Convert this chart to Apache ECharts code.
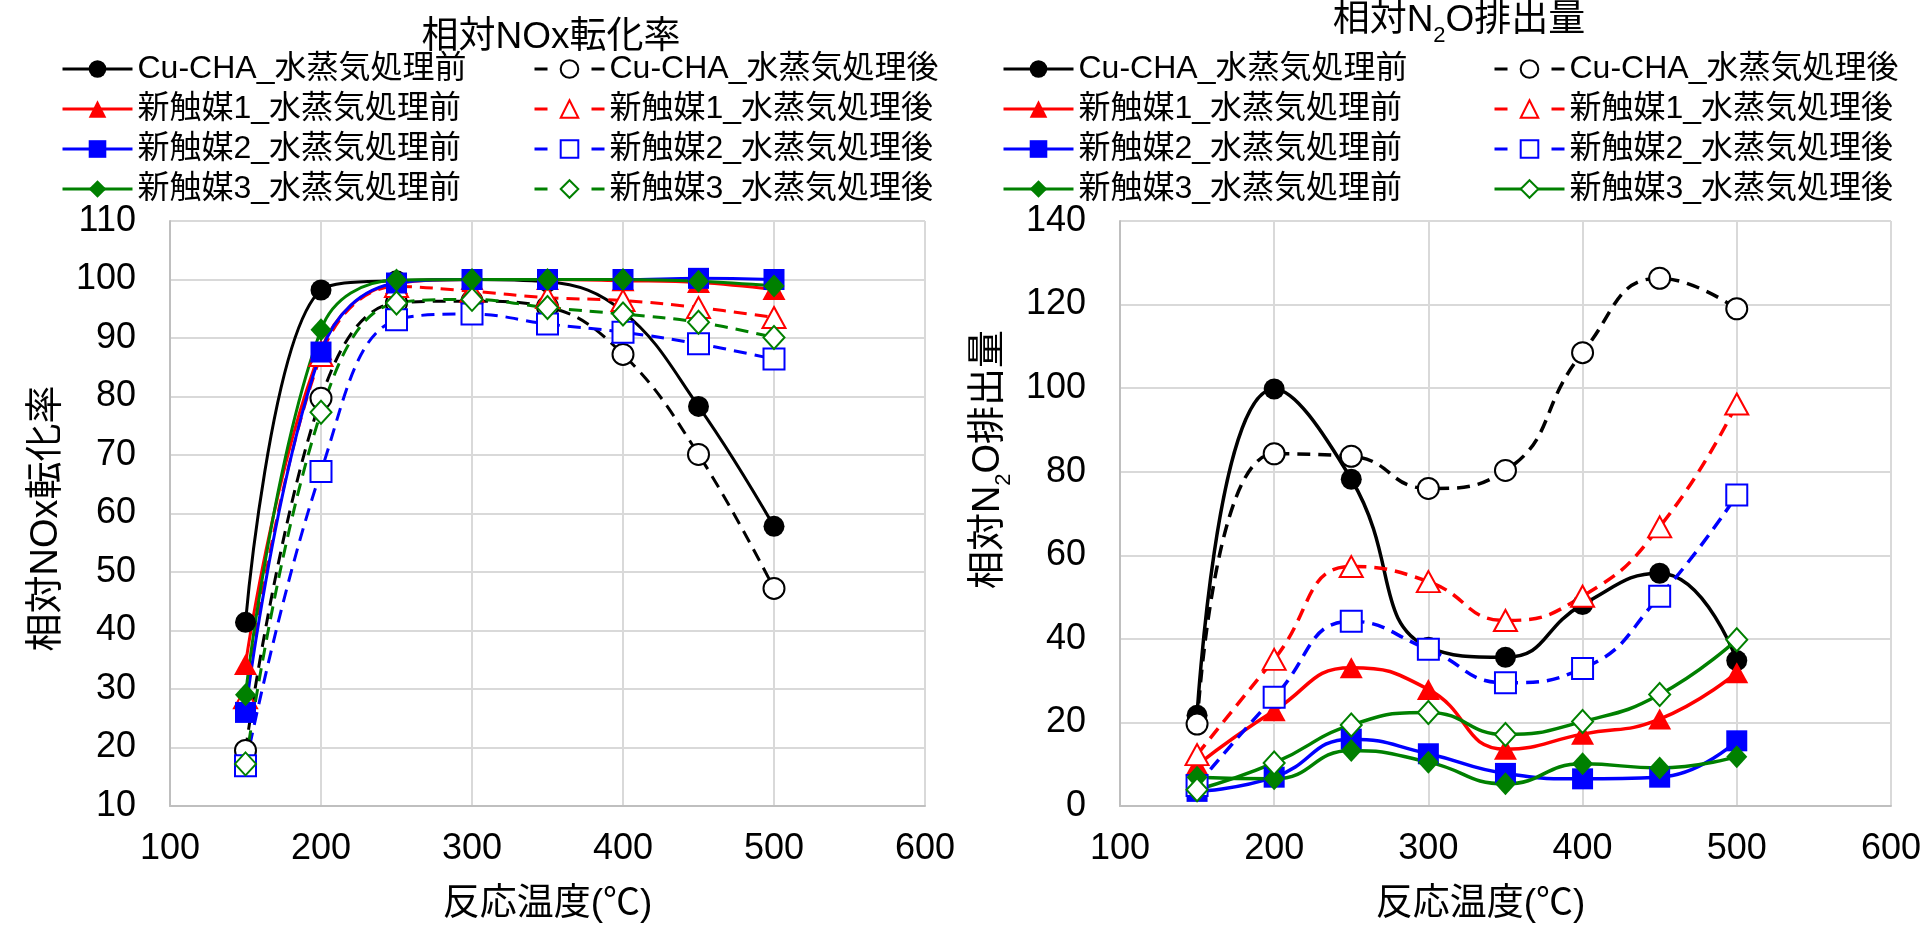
<!DOCTYPE html>
<html>
<head>
<meta charset="utf-8">
<script src="https://cdn.jsdelivr.net/npm/echarts@6/dist/echarts.min.js"></script>
<style>
  html, body { margin: 0; padding: 0; background: #ffffff; }
  #nox, #n2o { position: absolute; top: 0; width: 962px; height: 928px; }
  #nox { left: 0; }
  #n2o { left: 962px; }
</style>
</head>
<body>
<div id="nox"></div>
<div id="n2o"></div>
<script>
const FONT = '"Liberation Sans", "Noto Sans CJK JP", sans-serif';

// Reaction temperatures (°C)
const temps = [150, 200, 250, 300, 350, 400, 450, 500];

const seriesNames = [
  'Cu-CHA_水蒸気処理前', 'Cu-CHA_水蒸気処理後',
  '新触媒1_水蒸気処理前', '新触媒1_水蒸気処理後',
  '新触媒2_水蒸気処理前', '新触媒2_水蒸気処理後',
  '新触媒3_水蒸気処理前', '新触媒3_水蒸気処理後'
];

// Relative NOx conversion
const noxCuBefore  = [41.4, 98.2, 99.8, 100.0, 99.6, 94.5, 78.3, 57.8];
const noxCuAfter   = [19.5, 79.7, 96.0, 96.3, 95.3, 87.2, 70.1, 47.2];
const noxN1Before  = [34.2, 88.0, 99.3, 100.0, 100.0, 99.8, 99.5, 98.3];
const noxN1After   = [28.5, 87.0, 98.8, 98.0, 96.9, 96.4, 95.2, 93.5];
const noxN2Before  = [26.0, 87.6, 99.4, 100.0, 100.0, 100.0, 100.2, 100.0];
const noxN2After   = [16.9, 67.2, 93.1, 94.1, 92.4, 91.0, 89.0, 86.4];
const noxN3Before  = [29.0, 91.4, 99.9, 100.0, 100.0, 100.0, 99.7, 98.9];
const noxN3After   = [17.2, 77.3, 96.0, 96.6, 95.2, 94.1, 92.7, 90.1];

// Relative N2O emission
const n2oCuBefore  = [21.7, 99.8, 78.2, 38.0, 35.6, 48.2, 55.7, 34.8];
const n2oCuAfter   = [19.6, 84.3, 83.7, 76.0, 80.3, 108.5, 126.3, 119.0];
const n2oN1Before  = [9.8, 22.8, 33.1, 27.9, 13.6, 17.2, 20.8, 31.9];
const n2oN1After   = [12.3, 35.1, 57.3, 53.7, 44.4, 50.2, 66.8, 96.2];
const n2oN2Before  = [3.5, 6.9, 16.0, 12.5, 7.8, 6.5, 6.9, 15.6];
const n2oN2After   = [4.9, 26.0, 44.2, 37.5, 29.5, 32.9, 50.2, 74.4];
const n2oN3Before  = [6.9, 6.5, 13.3, 10.5, 5.3, 10.1, 9.1, 11.8];
const n2oN3After   = [3.9, 10.3, 19.4, 22.4, 17.1, 20.2, 26.7, 39.8];

const noxSets = [noxCuBefore, noxCuAfter, noxN1Before, noxN1After, noxN2Before, noxN2After, noxN3Before, noxN3After];
const n2oSets = [n2oCuBefore, n2oCuAfter, n2oN1Before, n2oN1After, n2oN2Before, n2oN2After, n2oN3Before, n2oN3After];

// Marker / colour per series
const looks = [
  { color: '#000000', symbol: 'circle',        size: 21 },
  { color: '#000000', symbol: 'emptyCircle',   size: 21 },
  { color: '#ff0000', symbol: 'triangle',      size: [23, 21] },
  { color: '#ff0000', symbol: 'emptyTriangle', size: [23, 21] },
  { color: '#0000ff', symbol: 'rect',          size: 21 },
  { color: '#0000ff', symbol: 'emptyRect',     size: 21 },
  { color: '#008000', symbol: 'diamond',       size: [21, 23] },
  { color: '#008000', symbol: 'emptyDiamond',  size: [21, 23] }
];

// Which series are drawn dashed in each chart
const noxDashed = [false, true, false, true, false, true, false, true];
const n2oDashed = [false, true, false, true, false, true, false, false];

function buildSeries(sets, dashed, lineWidth, smooth) {
  return sets.map((vals, i) => ({
    name: seriesNames[i],
    type: 'line',
    smooth: smooth,
    data: temps.map((t, k) => [t, vals[k]]),
    symbol: looks[i].symbol,
    symbolSize: looks[i].size,
    color: looks[i].color,
    lineStyle: { width: lineWidth, type: dashed[i] ? [13, 8] : 'solid', color: looks[i].color },
    itemStyle: { color: looks[i].color, borderWidth: looks[i].symbol.indexOf('empty') === 0 ? 3 : 0 },
    emphasis: { disabled: true },
    animation: false
  }));
}

function legendCol(names, dashed, left) {
  return {
    orient: 'vertical',
    left: left,
    top: 53,
    padding: 0,
    itemWidth: 70,
    itemHeight: 22,
    itemGap: 8,
    selectedMode: false,
    lineStyle: { width: 3 },
    textStyle: { fontSize: 32, lineHeight: 32, color: '#000', fontFamily: FONT },
    data: names.map(n => {
      const idx = seriesNames.indexOf(n);
      return dashed[idx] ? { name: n, lineStyle: { type: [13, 44] } } : { name: n };
    })
  };
}

const leftCol = [seriesNames[0], seriesNames[2], seriesNames[4], seriesNames[6]];
const rightCol = [seriesNames[1], seriesNames[3], seriesNames[5], seriesNames[7]];

const axisLineStyle = { show: true, lineStyle: { color: '#bfbfbf', width: 2 } };
const splitStyle = { show: true, lineStyle: { color: '#d9d9d9', width: 2 } };

function xAxisCfg(namePad) {
  return {
    type: 'value', min: 100, max: 600, interval: 100,
    name: '反応温度(℃)', nameLocation: 'middle', nameGap: 80,
    nameTextStyle: { fontSize: 37, color: '#000', fontFamily: FONT, padding: namePad },
    axisLine: axisLineStyle, axisTick: { show: false }, splitLine: splitStyle,
    axisLabel: { fontSize: 36, color: '#000', fontFamily: FONT, margin: 25 }
  };
}

function subRich(size) {
  return {
    a: { fontSize: size, lineHeight: 40, verticalAlign: 'top', fontWeight: 'normal', color: '#000', fontFamily: FONT },
    s: { fontSize: 22, lineHeight: 22, verticalAlign: 'top', fontWeight: 'normal', padding: [23, 0, 0, 0], color: '#000', fontFamily: FONT }
  };
}

const noxChart = echarts.init(document.getElementById('nox'), null, { renderer: 'canvas' });
noxChart.setOption({
  animation: false,
  backgroundColor: '#ffffff',
  title: {
    text: '相対NOx転化率', left: 551, top: 19, padding: 0, textAlign: 'center',
    textStyle: { fontSize: 37, fontWeight: 'normal', color: '#000', fontFamily: FONT }
  },
  legend: [legendCol(leftCol, noxDashed, 61), legendCol(rightCol, noxDashed, 533)],
  grid: { left: 170, right: 37, top: 221, bottom: 117, containLabel: false },
  xAxis: xAxisCfg([0, 0, 0, 0]),
  yAxis: {
    type: 'value', min: 10, max: 110, interval: 10,
    name: '相対NOx転化率', nameLocation: 'middle', nameGap: 97, nameRotate: 90,
    nameTextStyle: { fontSize: 38, color: '#000', fontFamily: FONT, padding: [0, 10, 0, 0] },
    axisLine: axisLineStyle, axisTick: { show: false }, splitLine: splitStyle,
    axisLabel: { fontSize: 36, color: '#000', fontFamily: FONT, margin: 34 }
  },
  series: buildSeries(noxSets, noxDashed, 3, 0.4)
});

const n2oChart = echarts.init(document.getElementById('n2o'), null, { renderer: 'canvas' });
n2oChart.setOption({
  animation: false,
  backgroundColor: 'transparent',
  title: {
    text: '{a|相対N}{s|2}{a|O排出量}', left: 497, top: 2, padding: 0, textAlign: 'center',
    textStyle: { fontWeight: 'normal', rich: subRich(37) }
  },
  legend: [legendCol(leftCol, n2oDashed, 40), legendCol(rightCol, n2oDashed, 531)],
  grid: { left: 149, right: 31, top: 221, bottom: 119, containLabel: false },
  xAxis: xAxisCfg([0, 50, 0, 0]),
  yAxis: {
    type: 'value', min: 0, max: 140, interval: 20,
    name: '{a|相対N}{s|2}{a|O排出量}', nameLocation: 'middle', nameGap: 103, nameRotate: 90,
    nameTextStyle: { fontWeight: 'normal', padding: [0, 0, 0, 108], rich: subRich(38) },
    axisLine: axisLineStyle, axisTick: { show: false }, splitLine: splitStyle,
    axisLabel: { fontSize: 36, color: '#000', fontFamily: FONT, margin: 34 }
  },
  series: buildSeries(n2oSets, n2oDashed, 3.5, 0.5)
});
</script>
</body>
</html>
